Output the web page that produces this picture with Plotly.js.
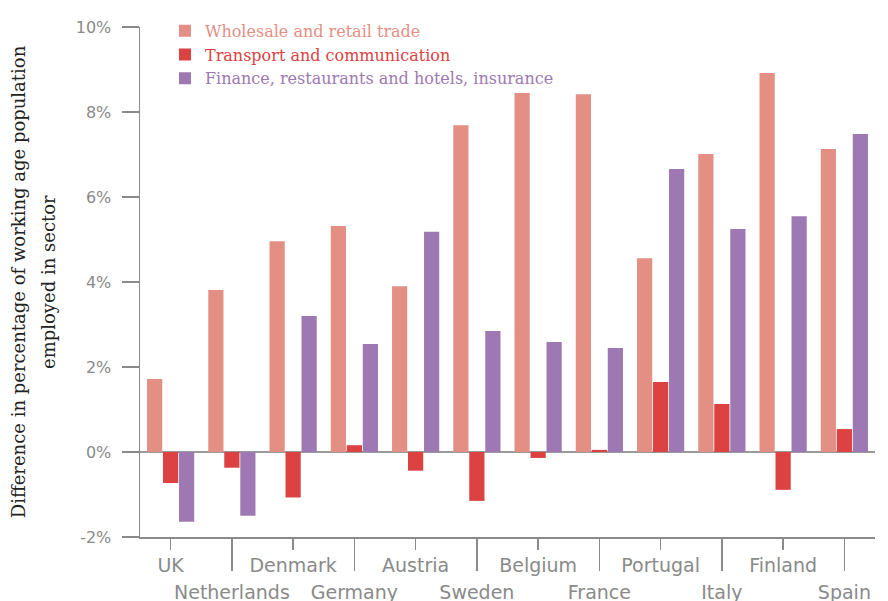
<!DOCTYPE html>
<html>
<head>
<meta charset="utf-8">
<script src="https://cdn.plot.ly/plotly-3.0.1.min.js"></script>
<style>html,body{margin:0;padding:0;background:#fff;}#chart{width:888px;height:601px;}</style>
</head>
<body>
<div id="chart"></div>
<script>
const countries = ["UK","Netherlands","Denmark","Germany","Austria","Sweden","Belgium","France","Portugal","Italy","Finland","Spain"];
const wholesale = [1.72, 3.81, 4.96, 5.32, 3.90, 7.69, 8.45, 8.42, 4.56, 7.01, 8.92, 7.13];
const transport = [-0.73, -0.37, -1.07, 0.16, -0.44, -1.15, -0.14, 0.05, 1.65, 1.13, -0.89, 0.54];
const finance = [-1.64, -1.50, 3.20, 2.54, 5.18, 2.85, 2.59, 2.45, 6.66, 5.25, 5.55, 7.48];
const seriesNames = ["Wholesale and retail trade","Transport and communication","Finance, restaurants and hotels, insurance"];
const colors = ["#E48F84","#DC4242","#9E78B2"];
const yTickVals = [-2,0,2,4,6,8,10];
const yTickText = ["-2%","0%","2%","4%","6%","8%","10%"];
const yTitleLine1 = "Difference in percentage of working age population";
const yTitleLine2 = "employed in sector";

const vals = [wholesale, transport, finance];
const traces = vals.map((v,k)=>({
  type:"bar", x:countries, y:v, name:'<span style="color:'+colors[k]+'">'+seriesNames[k]+'</span>',
  marker:{color:colors[k]}, hoverinfo:"x+y"
}));

const idx = countries.map((c,i)=>i);
const row1 = idx.filter(i=>i%2===0);
const row2 = idx.filter(i=>i%2===1);
const gray = "#8a8a8a";

// empty helper trace so the second (lower-row) label axis gets drawn
traces.push({type:"scatter", x:row2, y:row2.map(()=>null), xaxis:"x2", yaxis:"y",
  mode:"markers", showlegend:false, hoverinfo:"skip"});

const layout = {
  width:888, height:601,
  margin:{l:140, r:13, t:27, b:64},
  paper_bgcolor:"#fff", plot_bgcolor:"#fff",
  barmode:"group", bargap:0.216, bargroupgap:0.05,
  showlegend:true,
  legend:{x:0.034, y:1.026, xanchor:"left", yanchor:"top", font:{family:"DejaVu Serif", size:16}, bgcolor:"rgba(0,0,0,0)", tracegroupgap:0},
  xaxis:{type:"category", range:[-0.5,11.5], tickmode:"array",
    tickvals:row1.map(i=>countries[i]), ticktext:row1.map(i=>countries[i]),
    ticks:"outside", ticklen:11, tickwidth:1.5, tickcolor:gray,
    showline:true, linecolor:gray, linewidth:1.5, showgrid:false, zeroline:false,
    tickfont:{family:"DejaVu Sans", size:19, color:gray}},
  xaxis2:{type:"linear", overlaying:"x", anchor:"y", side:"bottom", range:[-0.5,11.5], tickmode:"array",
    tickvals:row2, ticktext:row2.map(i=>countries[i]),
    ticks:"outside", ticklen:33, tickwidth:1.5, tickcolor:gray, ticklabelstandoff:5,
    showline:false, showgrid:false, zeroline:false,
    tickfont:{family:"DejaVu Sans", size:19, color:gray}},
  yaxis:{range:[-2,10], tickmode:"array", tickvals:yTickVals, ticktext:yTickText,
    ticks:"outside", ticklen:17, tickwidth:1.5, tickcolor:gray, ticklabelstandoff:7,
    showline:true, linecolor:gray, linewidth:1.5, showgrid:false,
    zeroline:true, zerolinecolor:"#9a9a9a", zerolinewidth:1.5,
    tickfont:{family:"DejaVu Sans", size:16, color:gray},
    title:{text:yTitleLine1, font:{family:"DejaVu Serif", size:18, color:"#222"}, standoff:45}},
  annotations:[{text:yTitleLine2, xref:"paper", yref:"paper", x:-0.1252, y:0.5, xanchor:"center", yanchor:"middle",
    textangle:-90, showarrow:false, font:{family:"DejaVu Serif", size:18, color:"#222"}}]
};

Plotly.newPlot("chart", traces, layout, {displayModeBar:false, staticPlot:true});
</script>
</body>
</html>
